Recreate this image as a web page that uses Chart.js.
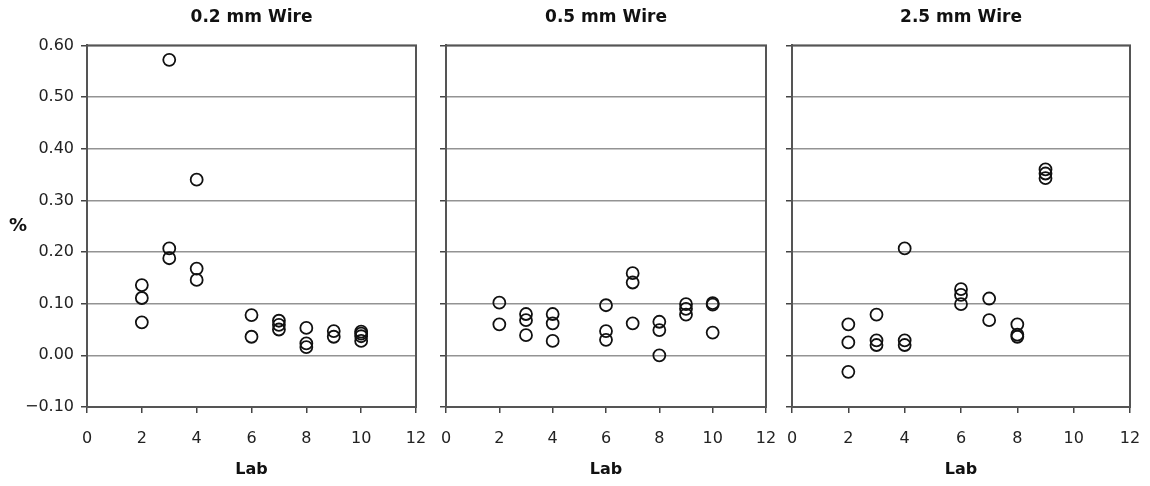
<!DOCTYPE html>
<html>
<head>
<meta charset="utf-8">
<script src="https://cdn.jsdelivr.net/npm/chart.js@4.4.1/dist/chart.umd.min.js"></script>
<style>
  body { margin: 0; background: #fff; width: 1150px; height: 486px; position: relative; overflow: hidden; }
  .panel { position: absolute; top: 0; height: 486px; }
</style>
</head>
<body>
<div class="panel" style="left:0;width:431px"><canvas id="c1"></canvas></div>
<div class="panel" style="left:431px;width:348px"><canvas id="c2"></canvas></div>
<div class="panel" style="left:779px;width:371px"><canvas id="c3"></canvas></div>
<script>
// tick labels
const xTicks = [0, 2, 4, 6, 8, 10, 12];
const yTicks = [-0.1, 0, 0.1, 0.2, 0.3, 0.4, 0.5, 0.6];

// 0.2 mm wire
const labs02 = [2, 2, 2, 3, 3, 3, 4, 4, 4, 6, 6, 7, 7, 7, 8, 8, 8, 9, 9, 10, 10, 10, 10];
const pct02 = [0.136, 0.111, 0.064, 0.572, 0.207, 0.188, 0.340, 0.168, 0.146, 0.078, 0.036,
               0.067, 0.059, 0.050, 0.053, 0.023, 0.016, 0.047, 0.036, 0.046, 0.042, 0.037, 0.028];

// 0.5 mm wire
const labs05 = [2, 2, 3, 3, 3, 4, 4, 4, 6, 6, 6, 7, 7, 7, 8, 8, 8, 9, 9, 9, 10, 10, 10];
const pct05 = [0.102, 0.060, 0.080, 0.068, 0.039, 0.080, 0.062, 0.028, 0.097, 0.047, 0.030,
               0.159, 0.141, 0.062, 0.065, 0.049, 0.000, 0.099, 0.090, 0.079, 0.101, 0.098, 0.044];

// 2.5 mm wire
const labs25 = [2, 2, 2, 3, 3, 3, 4, 4, 4, 6, 6, 6, 7, 7, 8, 8, 8, 9, 9, 9];
const pct25 = [0.060, 0.025, -0.032, 0.079, 0.029, 0.020, 0.207, 0.029, 0.020, 0.128, 0.117,
               0.099, 0.110, 0.068, 0.060, 0.040, 0.036, 0.360, 0.352, 0.343];

Chart.defaults.font.family = '"DejaVu Sans", Verdana, sans-serif';
Chart.defaults.color = '#222';

const fmt = v => (v < 0 ? '\u2212' : '') + Math.abs(v).toFixed(2);

// box around the plot area
const frame = {
    id: 'frame',
    afterDraw(chart) {
        const { ctx, chartArea: a } = chart;
        ctx.save();
        ctx.strokeStyle = '#555';
        ctx.lineWidth = 2;
        ctx.strokeRect(a.left, a.top, a.right - a.left, a.bottom - a.top);
        ctx.restore();
    }
};

// horizontal "%" axis label (panel 1 only)
const pctLabel = {
    id: 'pctLabel',
    afterDraw(chart) {
        const { ctx, chartArea: a } = chart;
        ctx.save();
        ctx.font = 'bold 18px "DejaVu Sans", Verdana, sans-serif';
        ctx.fillStyle = '#111';
        ctx.textAlign = 'center';
        ctx.textBaseline = 'middle';
        ctx.fillText('%', 18, (a.top + a.bottom) / 2);
        ctx.restore();
    }
};

function makePanel(id, title, labs, pct, yAxisW, padRight, showY) {
    new Chart(document.getElementById(id), {
        type: 'scatter',
        data: {
            datasets: [{
                data: labs.map((x, i) => ({ x: x, y: pct[i] })),
                pointRadius: 6,
                pointBorderWidth: 1.8,
                borderColor: '#111',
                pointBorderColor: '#111',
                backgroundColor: 'rgba(0,0,0,0)',
                pointBackgroundColor: 'rgba(0,0,0,0)'
            }]
        },
        options: {
            responsive: true,
            maintainAspectRatio: false,
            animation: false,
            layout: { padding: { left: 0, right: padRight, top: 0, bottom: 0 } },
            plugins: {
                legend: { display: false },
                tooltip: { enabled: false },
                title: {
                    display: true,
                    fullSize: false,
                    text: title,
                    color: '#111',
                    font: { size: 17, weight: 'bold' },
                    padding: { top: 7, bottom: 18 }
                }
            },
            scales: {
                x: {
                    type: 'linear',
                    min: 0,
                    max: 12,
                    afterBuildTicks: s => { s.ticks = xTicks.map(v => ({ value: v })); },
                    afterFit: s => { s.height = 79; s.paddingLeft = 0; s.paddingRight = 0; },
                    grid: { drawOnChartArea: false, tickColor: '#444', tickLength: 6, lineWidth: 1.5 },
                    border: { color: '#555', width: 2 },
                    ticks: { padding: 16, color: '#222', font: { size: 16 } },
                    title: {
                        display: true,
                        text: 'Lab',
                        color: '#111',
                        font: { size: 16, weight: 'bold' },
                        padding: { top: 0, bottom: 7 }
                    }
                },
                y: {
                    min: -0.1,
                    max: 0.6,
                    afterBuildTicks: s => { s.ticks = yTicks.map(v => ({ value: v })); },
                    afterFit: s => { s.width = yAxisW; },
                    grid: { color: '#939393', lineWidth: 1.5, tickColor: '#444', tickLength: 6 },
                    border: { color: '#555', width: 2 },
                    ticks: { display: showY, padding: 7, color: '#222', font: { size: 16 }, callback: v => fmt(v) }
                }
            }
        },
        plugins: showY ? [frame, pctLabel] : [frame]
    });
}

makePanel('c1', '0.2 mm Wire', labs02, pct02, 87, 15, true);
makePanel('c2', '0.5 mm Wire', labs05, pct05, 15, 13, false);
makePanel('c3', '2.5 mm Wire', labs25, pct25, 13, 20, false);
</script>
</body>
</html>
